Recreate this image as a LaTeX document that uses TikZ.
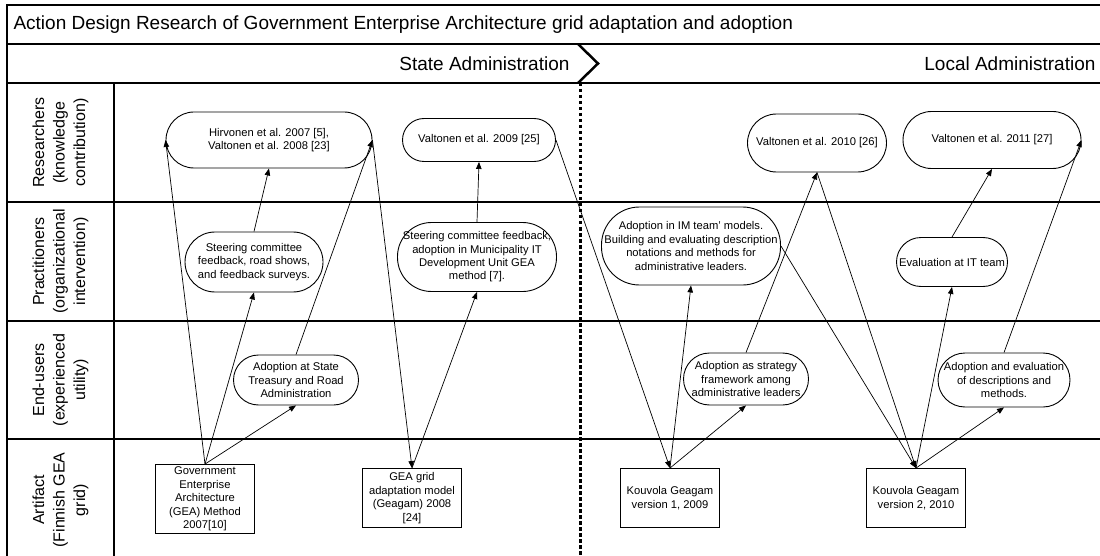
\documentclass[tikz,border=0pt]{standalone}
\usepackage{fontspec}
\setmainfont{Liberation Sans}
\usetikzlibrary{arrows.meta}

\begin{document}
\begin{tikzpicture}[x=1pt, y=-1pt,
    pill/.style={draw, rounded corners=#1, align=center, inner sep=1pt, font=\fontsize{11.2}{13.4}\selectfont, line width=0.9pt},
    artbox/.style={draw, minimum width=99pt, align=center, inner sep=1pt, font=\fontsize{11.2}{13.6}\selectfont, line width=0.9pt},
    lane/.style={rotate=90, align=center, font=\fontsize{16}{20.5}\selectfont},
    head/.style={font=\fontsize{19}{22}\selectfont},
    sepline/.style={line width=1.1pt},
    arrow/.style={-{Triangle[length=7pt, width=5.5pt]}, line width=0.7pt}
]
    \useasboundingbox (0,0) rectangle (1100,556);
    \clip (0,0) rectangle (1100,556);

    % Frame, header rows and swimlanes
    \draw[sepline] (7,556) |- (1100,5);
    \draw[sepline] (7,44) -- (1100,44);
    \draw[sepline] (7,83) -- (1100,83);
    \foreach \y in {202,321,439}
        \draw[sepline] (7,\y) -- (1100,\y);
    \draw[sepline] (114,83) -- (114,556);

    % State / local boundary
    \draw[line width=2.5pt] (578,44) -- (598,63.5) -- (578,83);
    \draw[line width=3pt, dash pattern=on 3.5pt off 2.5pt] (580,83) -- (580,556);

    \node[head, anchor=west] (title) at (10,25) {Action Design Research of Government Enterprise Architecture grid adaptation and adoption};
    \node[head, anchor=east] (state) at (573,64) {State Administration};
    \node[head, anchor=east] (local) at (1099,64) {Local Administration};

    % Lane labels
    \node[lane] (lres) at (60.5,142.5) {Researchers\\(knowledge\\contribution)};
    \node[lane] (lpra) at (60.5,261.5) {Practitioners\\(organizational\\intervention)};
    \node[lane] (lend) at (60.5,380) {End-users\\(experienced\\utility)};
    \node[lane] (lart) at (60.5,500) {Artifact\\(Finnish GEA\\grid)};

    % Researchers
    \node[pill=28pt, minimum width=206pt, minimum height=56pt] (hirv) at (269,140) {Hirvonen et al. 2007 [5],\\Valtonen et al. 2008 [23]};
    \node[pill=21.5pt, minimum width=153pt, minimum height=43pt] (val09) at (479,140) {Valtonen et al. 2009 [25]};
    \node[pill=29pt, minimum width=139pt, minimum height=58pt] (val10) at (817,143) {Valtonen et al. 2010 [26]};
    \node[pill=28.5pt, minimum width=178pt, minimum height=57pt] (val11) at (992,140) {Valtonen et al. 2011 [27]};

    % Practitioners
    \node[pill=30pt, minimum width=138pt, minimum height=60pt] (steer) at (254,262) {Steering committee\\feedback, road shows,\\and feedback surveys.};
    \node[pill=34pt, minimum width=159pt, minimum height=69pt] (muni) at (477,257) {Steering committee feedback,\\adoption in Municipality IT\\Development Unit GEA\\method [7].};
    \node[pill=38pt, minimum width=179pt, minimum height=78pt] (imteam) at (691,246) {Adoption in IM team' models.\\Building and evaluating description\\notations and methods for\\administrative leaders.};
    \node[pill=24.5pt, minimum width=111pt, minimum height=49pt] (itteam) at (952,262) {Evaluation at IT team};

    % End-users
    \node[pill=25pt, minimum width=125pt, minimum height=50pt] (treas) at (296,380) {Adoption at State\\Treasury and Road\\Administration};
    \node[pill=26pt, minimum width=125pt, minimum height=52pt] (strat) at (746,379) {Adoption as strategy\\framework among\\administrative leaders};
    \node[pill=27pt, minimum width=132pt, minimum height=54pt] (descr) at (1004,380) {Adoption and evaluation\\of descriptions and\\methods.};

    % Artifacts
    \node[artbox, minimum height=69pt] (gea) at (205,499) {Government\\Enterprise\\Architecture\\(GEA) Method\\2007[10]};
    \node[artbox, minimum height=59pt] (geagam) at (412,498) {GEA grid\\adaptation model\\(Geagam) 2008\\{[24]}};
    \node[artbox, minimum height=59pt] (kouv1) at (670,498) {Kouvola Geagam\\version 1, 2009};
    \node[artbox, minimum height=59pt] (kouv2) at (916,498) {Kouvola Geagam\\version 2, 2010};

    % State administration cycle
    \draw[arrow] (gea.north) -- (hirv.west);
    \draw[arrow] (gea.north) -- (steer.south);
    \draw[arrow] (gea.north) -- (treas.south);
    \draw[arrow] (steer.north) -- (hirv.south);
    \draw[arrow] (treas.north) -- (hirv.east);
    \draw[arrow] (hirv.east) -- (geagam.north);
    \draw[arrow] (geagam.north) -- (muni.south);
    \draw[arrow] (muni.north) -- (val09.south);
    \draw[arrow] (val09.east) -- (kouv1.north);

    % Local administration cycle
    \draw[arrow] (kouv1.north) -- (imteam.south);
    \draw[arrow] (kouv1.north) -- (strat.south);
    \draw[arrow] (strat.north) -- (val10.south);
    \draw[arrow] (val10.south) -- (kouv2.north);
    \draw[arrow] (imteam.east) -- (kouv2.north);
    \draw[arrow] (kouv2.north) -- (itteam.south);
    \draw[arrow] (itteam.north) -- (val11.south);
    \draw[arrow] (kouv2.north) -- (descr.south);
    \draw[arrow] (descr.north) -- (val11.east);
\end{tikzpicture}
\end{document}
